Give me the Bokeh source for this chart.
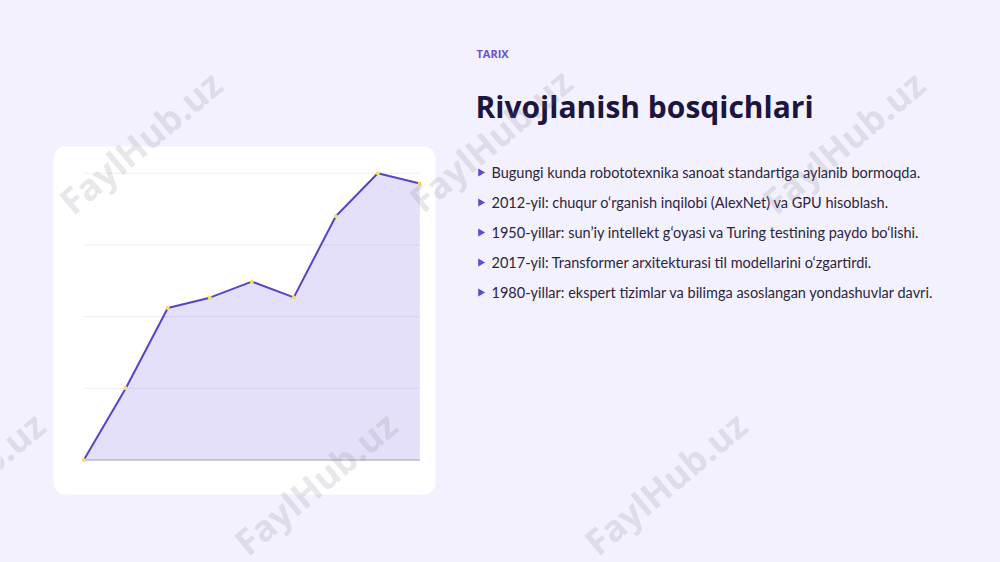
import math
from bokeh.plotting import figure
from bokeh.models import Range1d, BoxAnnotation, ColumnDataSource
from bokeh.core.properties import value
from bokeh.embed import file_html
from bokeh.resources import INLINE

# ---------------- data ----------------
steps = [0, 1, 2, 3, 4, 5, 6, 7, 8]
values = [0, 25, 53, 56.6, 62.2, 56.7, 85, 100, 96.4]
grid_ticks = [25, 50, 75, 100]
baseline_tick = [0]

eyebrow = "TARIX"
title = "Rivojlanish bosqichlari"
bullets = [
    "Bugungi kunda robototexnika sanoat standartiga aylanib bormoqda.",
    "2012-yil: chuqur o\u2018rganish inqilobi (AlexNet) va GPU hisoblash.",
    "1950-yillar: sun\u2019iy intellekt g\u2018oyasi va Turing testining paydo bo\u2018lishi.",
    "2017-yil: Transformer arxitekturasi til modellarini o\u2018zgartirdi.",
    "1980-yillar: ekspert tizimlar va bilimga asoslangan yondashuvlar davri.",
]
watermark = "FaylHub.uz"

# ---------------- layout (page px; Bokeh's template has no body margin) ----------------
W, H = 1000, 562
BG = "#f4f1fe"

p = figure(width=W, height=H, output_backend="svg", toolbar_location=None,
           x_range=Range1d(0, W), y_range=Range1d(H, 0),
           x_axis_location=None, y_axis_location=None,
           min_border=0, outline_line_color=None,
           background_fill_color=BG, border_fill_color=BG)
p.xgrid.visible = False
p.ygrid.visible = False

# card
card = BoxAnnotation(left=53, right=435, top=146, bottom=494,
                     fill_color="white", fill_alpha=1.0, line_color=None,
                     border_radius=12, level="image")
p.add_layout(card)

# chart scales: data x 0..8 -> page 83.3..419.3 ; data y 0..100 -> page 459.5..172.7
x0_px, x1_px = 83.3, 419.3
sx = (x1_px - x0_px) / (steps[-1] - steps[0])
xs = steps[0] - x0_px / sx
p.extra_x_ranges = {"cx": Range1d(xs, xs + W / sx)}
y0_px, y1_px = H - 459.5, H - 172.7
sy = (y1_px - y0_px) / 100.0
ys = 0 - y0_px / sy
p.extra_y_ranges = {"cy": Range1d(ys, ys + H / sy)}

kw = dict(x_range_name="cx", y_range_name="cy")

# gridlines
p.segment(x0=[steps[0]] * len(grid_ticks), x1=[steps[-1]] * len(grid_ticks),
          y0=grid_ticks, y1=grid_ticks, line_color="#efedf4", line_width=1, **kw)

src = ColumnDataSource(dict(x=steps, y=values))
p.varea(x="x", y1=0, y2="y", source=src, fill_color="#7a66e2", fill_alpha=0.2, **kw)
p.segment(x0=[steps[0]], x1=[steps[-1]], y0=baseline_tick, y1=baseline_tick,
          line_color="#bdb9cb", line_width=1.5, **kw)
p.line(x="x", y="y", source=src, line_color="#5544c6", line_width=2, **kw)
p.scatter(x="x", y="y", source=src, size=4, fill_color="#f3df62", line_color=None, **kw)

# right-hand texts
p.text(x=[476], y=[53], text=[eyebrow], text_font=value("Open Sans"),
       text_font_style="bold", text_font_size="11px", text_color="#6a4fd6",
       text_baseline="middle")
p.text(x=[475], y=[106], text=[title], text_font=value("Open Sans"),
       text_font_style="bold", text_font_size="30px", text_color="#1b1640",
       text_baseline="alphabetic")

line_y = [172 + 30 * i for i in range(len(bullets))]
p.scatter(x=[480] * len(bullets), y=line_y, marker="triangle", size=8,
          angle=-math.pi / 2, fill_color="#5b4bd6", line_color=None)
p.text(x=[491] * len(bullets), y=line_y, text=bullets, text_font=value("Lato"),
       text_font_size="14.5px", text_color="#2a2540", text_baseline="middle")

# watermarks
wm_x = [140, 490, 843, -37, 315, 665]
wm_y = [142, 140, 142, 483, 483, 483]
p.text(x=wm_x, y=wm_y, text=[watermark] * len(wm_x),
       angle=math.radians(40), text_font=value("Open Sans"), text_font_style="bold",
       text_font_size="36px", text_color="#6f6d80", text_alpha=0.18,
       text_align="center", text_baseline="middle")

html = file_html(p, INLINE)
html = html.replace("</head>", "<style>html,body{background:%s;}</style></head>" % BG, 1)
open("out.html", "w").write(html)
